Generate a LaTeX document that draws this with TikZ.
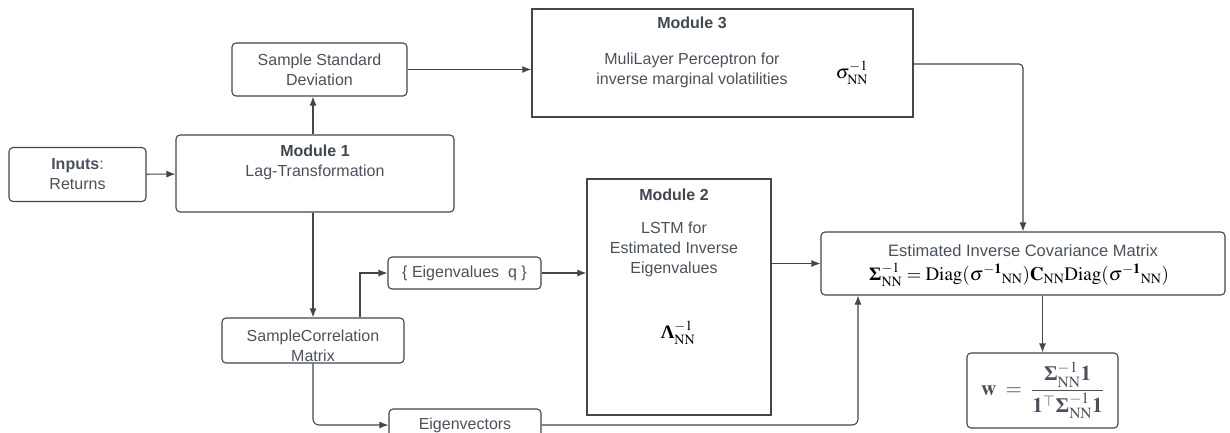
\documentclass[tikz,border=0pt]{standalone}
\usepackage{amsmath}
\usepackage{mathptmx}
\usepackage[no-math]{fontspec}
\setmainfont{Liberation Sans}
\newfontfamily\tmsfont{Liberation Serif}
\usetikzlibrary{arrows.meta,positioning}
\definecolor{linec}{HTML}{40474F}
\definecolor{txtc}{HTML}{4A515B}
\newcommand{\fsz}[1]{\fontsize{#1}{20}\selectfont}
\newcommand{\NN}{\mathrm{NN}}
\newcommand{\bSig}{\text{\tmsfont\bfseries Σ}}
\newcommand{\bLam}{\text{\tmsfont\bfseries Λ}}
\begin{document}
\begin{tikzpicture}[
    x=1pt, y=-1pt,
    box/.style={draw=linec, line width=1.1pt, rounded corners=4pt, inner sep=0pt, text=txtc, align=center, font=\fsz{16}},
    module/.style={draw=linec, line width=1.3pt, inner sep=0pt},
    title/.style={text=linec, font=\fsz{16}\bfseries},
    label/.style={text=txtc, align=center, font=\fsz{16}},
    conn/.style={draw=linec, line width=1.1pt, -{Latex[length=9pt,width=7pt]}}
]
\useasboundingbox (0,0) rectangle (1230,433);
\clip (0,0) rectangle (1230,433);

% Left column
\node[box, minimum width=137, minimum height=54] (inp) at (77.5,174.5) {\textbf{Inputs}:\\Returns};

\node[box, minimum width=278, minimum height=77] (mod1) at (315,173.5) {};
\node[title] (mod1t) at (315,151) {Module 1};
\node[label] (mod1l) at (315,172) {Lag-Transformation};

\node[box, minimum width=175, minimum height=53] (ssd) at (319.5,69.5) {Sample Standard\\Deviation};

\node[box, minimum width=182, minimum height=45] (scm) at (313,340.5) {};
\node[label] (scml) at (313,346) {SampleCorrelation\\Matrix};

\node[box, minimum width=153, minimum height=32] (eig) at (464.5,273) {\{ Eigenvalues~~q \}};
\node[box, minimum width=152, minimum height=32] (evec) at (465,425) {Eigenvectors};

% Modules 3 and 2
\node[module, minimum width=381, minimum height=108] (mod3) at (722.5,63) {};
\node[title] (mod3t) at (692,23) {Module 3};
\node[label] (mod3l) at (692,70) {MuliLayer Perceptron for\\inverse marginal volatilities};
\node (sig) at (852,73) {\fsz{19}$\sigma^{-1}_{\NN}$};

\node[module, minimum width=184, minimum height=236] (mod2) at (679,297) {};
\node[title] (mod2t) at (674,195) {Module 2};
\node[label] (mod2l) at (674,249) {LSTM for\\Estimated Inverse\\Eigenvalues};
\node (lam) at (678,333) {\fsz{19}$\bLam^{-1}_{\NN}$};

% Output side
\node[box, minimum width=404, minimum height=63] (cov) at (1023,263.5) {};
\node[label, font=\fsz{16.5}] (covl) at (1023,251) {Estimated Inverse Covariance Matrix};
\node (covf) at (1019,275) {\fsz{19}$\bSig^{-1}_{\NN} = \mathrm{Diag}(\sigma^{\mathbf{-1}}{}_{\NN})\mathbf{C}_{\NN}\mathrm{Diag}(\sigma^{\mathbf{-1}}{}_{\NN})$};

\node[box, minimum width=151, minimum height=75] (wbox) at (1042.5,390.5) {\fsz{21}$\mathbf{w} \;=\; \dfrac{\bSig^{-1}_{\NN}\mathbf{1}}{\mathbf{1}^{\top}\bSig^{-1}_{\NN}\mathbf{1}}$};

% Connectors
\draw[conn] (inp) -- (mod1);
\draw[conn] ([xshift=-2pt]mod1.north) -- ([xshift=-2pt]mod1.north |- ssd.south);
\draw[conn] (ssd.east) -- (ssd.east -| mod3.west);
\draw[conn, rounded corners=4pt] ([yshift=-1pt]mod3.east) -| (cov.north);
\draw[conn] (mod1.south -| scm.north) -- (scm.north);
\draw[conn] ([xshift=47pt]scm.north) |- (eig.west);
\draw[conn] (eig) -- (eig.east -| mod2.west);
\draw[conn] (mod2.east |- cov.west) -- (cov.west);
\draw[conn, rounded corners=6pt] (scm.south) |- (evec.west);
\draw[conn, rounded corners=6pt] (evec.east) -| ([xshift=-165pt]cov.south);
\draw[conn] (cov.south -| wbox.north) -- (wbox.north);

\end{tikzpicture}
\end{document}
